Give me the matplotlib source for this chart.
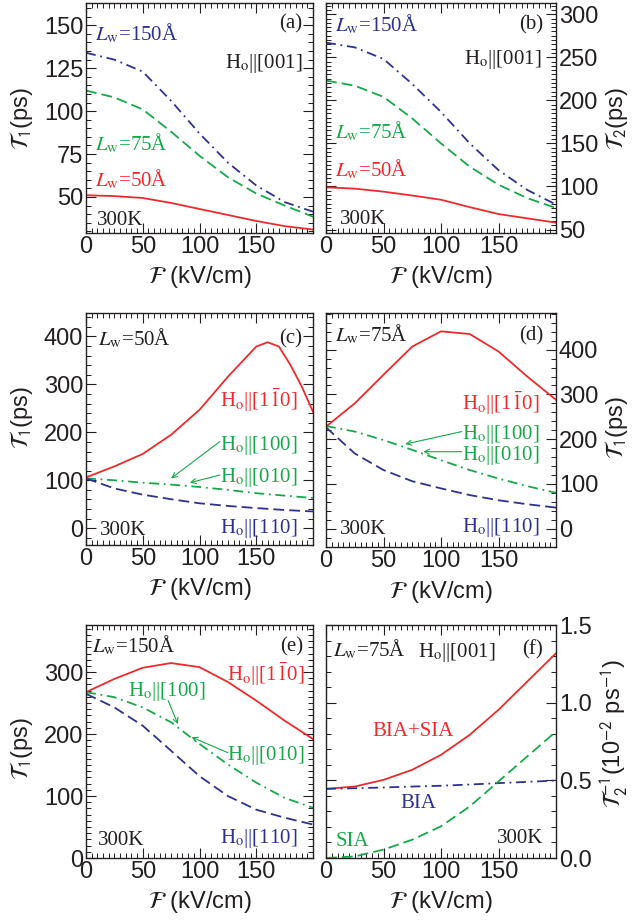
import matplotlib
matplotlib.use("Agg")
import matplotlib.pyplot as plt
from matplotlib.ticker import MultipleLocator, FormatStrFormatter

plt.rcParams['font.family'] = ['Liberation Sans', 'DejaVu Sans']
plt.rcParams['mathtext.fontset'] = 'stix'

# ---------------- data ----------------
F = [0, 25, 50, 75, 100, 125, 150, 175, 200]

# (a) T1, Ho||[001]
a_150 = [134, 130, 123, 106, 87, 70, 56.7, 47, 41.4]
a_75 = [112, 108, 101, 88, 74, 61.5, 52, 45, 38.5]
a_50 = [51, 50.5, 49.4, 46.5, 43, 39.5, 36, 33, 31]

# (b) T2, Ho||[001]
b_150 = [267, 261.5, 248, 219, 186.5, 150, 119, 96, 79]
b_75 = [223, 217, 204, 179, 150, 123, 102, 86.5, 75]
b_50 = [99, 97.5, 94, 89.5, 84.6, 76, 68, 63, 58]

# (c) Lw = 50 A
Fc_red = [0, 25, 50, 75, 100, 125, 150, 160, 170, 180, 190, 200]
c_1m10 = [106, 129, 155, 195, 247, 316, 379, 388, 379, 341, 296, 243]
c_100 = [104, 100, 95, 91, 86, 80, 73, 68, 63]
c_110 = [104, 83, 70, 60.5, 52, 46.5, 42, 38, 35]

# (d) Lw = 75 A
d_1m10 = [228, 280, 344, 407, 441, 435, 396, 340, 288]
d_100 = [229.5, 217, 198, 176, 153, 131, 112, 95, 80]
d_110 = [226.5, 168, 131, 106, 90, 75, 63.5, 54.6, 47]

# (e) Lw = 150 A
e_1m10 = [267.6, 289, 307, 314.6, 308, 284, 254, 221.6, 192]
e_100 = [267.6, 259.5, 243, 219, 184, 151, 121.6, 97, 81]
e_110 = [265, 243, 213.5, 173, 132, 100, 78, 65, 54]

# (f) 1/T2, Lw = 75 A
f_total = [0.445, 0.46, 0.503, 0.568, 0.664, 0.793, 0.954, 1.136, 1.318]
f_bia = [0.445, 0.449, 0.454, 0.46, 0.465, 0.473, 0.482, 0.49, 0.499]
f_sia = [0.0, 0.01, 0.054, 0.118, 0.204, 0.332, 0.493, 0.654, 0.814]

xticks = [0, 50, 100, 150]

RED = '#ee2a2e'
GREEN = '#17a84b'
BLUE = '#2e3192'
TXT = '#231f20'
SERIF = ['Liberation Serif', 'DejaVu Serif']

LW = 1.3
DASH = (0, (6, 2.8))
DASHDOT = (0, (5.5, 2.6, 1.0, 2.6))

fig = plt.figure(figsize=(6.34, 9.22), dpi=100)
W, H = 634.0, 922.0


def make_ax(l, t, r, b):
    return fig.add_axes([l / W, 1 - b / H, (r - l) / W, (b - t) / H])


def style(ax, ylim, ymaj, ymin, right=False, fmt=None):
    ax.set_xlim(0, 200)
    ax.set_ylim(*ylim)
    ax.set_xticks(xticks)
    ax.xaxis.set_minor_locator(MultipleLocator(5))
    ax.yaxis.set_major_locator(MultipleLocator(ymaj))
    ax.yaxis.set_minor_locator(MultipleLocator(ymin))
    if fmt:
        ax.yaxis.set_major_formatter(FormatStrFormatter(fmt))
    ax.tick_params(which='both', direction='in', top=True, bottom=True,
                   left=True, right=True, colors=TXT, labelcolor=TXT,
                   labelsize=17, pad=2)
    ax.tick_params(which='major', length=7, width=0.8)
    ax.tick_params(which='minor', length=3.5, width=0.7)
    if right:
        ax.tick_params(labelleft=False, labelright=True)
        ax.yaxis.set_label_position('right')
    for s in ax.spines.values():
        s.set_linewidth(1.0)
        s.set_color(TXT)
    ax.set_xlabel(r'$\mathcal{F}$ (kV/cm)', fontsize=17, color=TXT)
    ax.xaxis.set_label_coords(0.5, -0.135)


def txt(ax, x, y, s, color=TXT, ha='left', va='baseline'):
    ax.text(x, y, s, transform=ax.transAxes, color=color, ha=ha, va=va,
            fontsize=15, family=SERIF)


def arrow(ax, xy, xyt):
    ax.annotate('', xy=xy, xytext=xyt,
                arrowprops=dict(arrowstyle='->', color=GREEN, lw=0.8,
                                shrinkA=0, shrinkB=0, mutation_scale=9))


Ho_001 = r'H$_{\rm o}$||[001]'
Ho_1m10 = r'H$_{\rm o}$||[1$\bar{\rm 1}$0]'
Ho_100 = r'H$_{\rm o}$||[100]'
Ho_010 = r'H$_{\rm o}$||[010]'
Ho_110 = r'H$_{\rm o}$||[110]'

# ---------------- (a) ----------------
ax = make_ax(86, 3, 313, 233)
ax.plot(F, a_150, color=BLUE, lw=LW, ls=DASHDOT)
ax.plot(F, a_75, color=GREEN, lw=LW, ls=DASH)
ax.plot(F, a_50, color=RED, lw=LW)
style(ax, (29, 163), 25, 5)
ax.set_ylabel(r'$\mathcal{T}_{\mathsf{1}}$(ps)', fontsize=17, color=TXT)
ax.yaxis.set_label_coords(-0.225, 0.5)
txt(ax, 0.952, 0.909, '(a)', ha='right', va='center')
txt(ax, 0.04, 0.836, r'$L_{\rm w}$=150Å', color=BLUE)
txt(ax, 0.04, 0.361, r'$L_{\rm w}$=75Å', color=GREEN)
txt(ax, 0.04, 0.204, r'$L_{\rm w}$=50Å', color=RED)
txt(ax, 0.952, 0.716, Ho_001, ha='right')
txt(ax, 0.048, 0.035, '300K')

# ---------------- (b) ----------------
ax = make_ax(326, 3, 556, 233)
ax.plot(F, b_150, color=BLUE, lw=LW, ls=DASHDOT)
ax.plot(F, b_75, color=GREEN, lw=LW, ls=DASH)
ax.plot(F, b_50, color=RED, lw=LW)
style(ax, (46, 313), 50, 5, right=True)
ax.set_ylabel(r'$\mathcal{T}_{\mathsf{2}}$(ps)', fontsize=17, color=TXT)
ax.yaxis.set_label_coords(1.204, 0.5)
txt(ax, 0.943, 0.904, '(b)', ha='right', va='center')
txt(ax, 0.039, 0.875, r'$L_{\rm w}$=150Å', color=BLUE)
txt(ax, 0.039, 0.412, r'$L_{\rm w}$=75Å', color=GREEN)
txt(ax, 0.039, 0.248, r'$L_{\rm w}$=50Å', color=RED)
txt(ax, 0.938, 0.735, Ho_001, ha='right')
txt(ax, 0.061, 0.039, '300K')

# ---------------- (c) ----------------
ax = make_ax(86, 313, 313, 545)
ax.plot(Fc_red, c_1m10, color=RED, lw=LW)
ax.plot(F, c_100, color=GREEN, lw=LW, ls=DASHDOT)
ax.plot(F, c_110, color=BLUE, lw=LW, ls=DASH)
style(ax, (-35, 449), 100, 20)
ax.set_ylabel(r'$\mathcal{T}_{\mathsf{1}}$(ps)', fontsize=17, color=TXT)
ax.yaxis.set_label_coords(-0.225, 0.55)
txt(ax, 0.952, 0.888, '(c)', ha='right', va='center')
txt(ax, 0.054, 0.862, r'$L_{\rm w}$=50Å')
txt(ax, 0.93, 0.595, Ho_1m10, color=RED, ha='right')
txt(ax, 0.93, 0.41, Ho_100, color=GREEN, ha='right')
txt(ax, 0.93, 0.273, Ho_010, color=GREEN, ha='right')
txt(ax, 0.93, 0.05, Ho_110, color=BLUE, ha='right')
txt(ax, 0.062, 0.043, '300K')
arrow(ax, (75, 104), (118, 181))
arrow(ax, (91.5, 95), (118, 111))

# ---------------- (d) ----------------
ax = make_ax(326, 313, 556, 547)
ax.plot(F, d_1m10, color=RED, lw=LW)
ax.plot(F, d_100, color=GREEN, lw=LW, ls=DASHDOT)
ax.plot(F, d_110, color=BLUE, lw=LW, ls=DASH)
style(ax, (-41, 482), 100, 20, right=True)
ax.set_ylabel(r'$\mathcal{T}_{\mathsf{1}}$(ps)', fontsize=17, color=TXT)
ax.yaxis.set_label_coords(1.204, 0.51)
txt(ax, 0.943, 0.903, '(d)', ha='right', va='center')
txt(ax, 0.039, 0.877, r'$L_{\rm w}$=75Å')
txt(ax, 0.93, 0.585, Ho_1m10, color=RED, ha='right')
txt(ax, 0.93, 0.46, Ho_100, color=GREEN, ha='right')
txt(ax, 0.93, 0.372, Ho_010, color=GREEN, ha='right')
txt(ax, 0.93, 0.063, Ho_110, color=BLUE, ha='right')
txt(ax, 0.061, 0.055, '300K')
arrow(ax, (69, 189), (118, 217))
arrow(ax, (84.6, 172), (118, 172))

# ---------------- (e) ----------------
ax = make_ax(86, 625, 313, 858)
ax.plot(F, e_1m10, color=RED, lw=LW)
ax.plot(F, e_100, color=GREEN, lw=LW, ls=DASHDOT)
ax.plot(F, e_110, color=BLUE, lw=LW, ls=DASH)
style(ax, (0, 376), 100, 10)
ax.set_ylabel(r'$\mathcal{T}_{\mathsf{1}}$(ps)', fontsize=17, color=TXT)
ax.yaxis.set_label_coords(-0.225, 0.47)
txt(ax, 0.956, 0.907, '(e)', ha='right', va='center')
txt(ax, 0.025, 0.881, r'$L_{\rm w}$=150Å')
txt(ax, 0.965, 0.761, Ho_1m10, color=RED, ha='right')
txt(ax, 0.185, 0.695, Ho_100, color=GREEN)
txt(ax, 0.965, 0.42, Ho_010, color=GREEN, ha='right')
txt(ax, 0.934, 0.063, Ho_110, color=BLUE, ha='right')
txt(ax, 0.053, 0.056, '300K')
arrow(ax, (81, 216), (72.4, 254))
arrow(ax, (93, 195), (125, 170))

# ---------------- (f) ----------------
ax = make_ax(326, 625, 556, 858)
ax.plot(F, f_total, color=RED, lw=LW)
ax.plot(F, f_bia, color=BLUE, lw=LW, ls=DASHDOT)
ax.plot(F, f_sia, color=GREEN, lw=LW, ls=DASH)
style(ax, (0, 1.5), 0.5, 0.1, right=True, fmt='%.1f')
ax.set_ylabel(r'$\mathcal{T}_{\mathsf{2}}^{\mathsf{-1}}$(10$^{\mathsf{-2}}$ ps$^{\mathsf{-1}}$)',
              fontsize=17, color=TXT)
ax.yaxis.set_label_coords(1.183, 0.536)
txt(ax, 0.03, 0.864, r'$L_{\rm w}$=75Å')
txt(ax, 0.40, 0.864, Ho_001)
txt(ax, 0.943, 0.893, '(f)', ha='right', va='center')
txt(ax, 0.378, 0.524, 'BIA+SIA', color=RED, ha='center')
txt(ax, 0.401, 0.213, 'BIA', color=BLUE, ha='center')
txt(ax, 0.116, 0.05, 'SIA', color=GREEN, ha='center')
txt(ax, 0.945, 0.063, '300K', ha='right')

fig.savefig('out.png', dpi=100)
